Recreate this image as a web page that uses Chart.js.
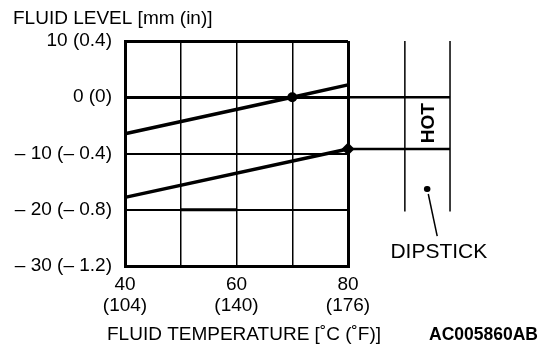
<!DOCTYPE html>
<html>
<head>
<meta charset="utf-8">
<script src="https://cdn.jsdelivr.net/npm/chart.js@4.4.1/dist/chart.umd.min.js"></script>
<style>
  html, body { margin: 0; padding: 0; background: #fff; }
</style>
</head>
<body>
<canvas id="chart" width="560" height="364"></canvas>
<script>
const FONT = '"Liberation Sans", Arial, Helvetica, sans-serif';

// x axis: fluid temperature (labelled ticks only)
const tempTicks = [40, 60, 80];
const tempTicksF = ['(104)', '(140)', '(176)'];

// y axis: fluid level
const levelTicks = [10, 0, -10, -20, -30];
const levelTickLabels = ['10 (0.4)', '0 (0)', '– 10 (– 0.4)', '– 20 (– 0.8)', '– 30 (– 1.2)'];

// upper line, dot at 70 °C
const upperTemps = [40, 70, 80];
const upperLevels = [-6.5, 0, 2.2];

// lower line, diamond at 80 °C
const lowerTemps = [40, 80];
const lowerLevels = [-17.8, -9.2];

// short heavy stroke on the -20 gridline
const stubTemps = [50, 60];
const stubLevels = [-20, -20];

// dipstick sketch to the right of the plot, on the same scales
const dipstickEdges = [90.2, 98.3];
const dipstickSpan = [10, -20.3];
const hotBand = [0, -9.2];
const dipstickDotTemps = [94.15, 94.25];
const dipstickDotLevels = [-16.3, -16.3];
const leaderTemps = [94.4, 96];
const leaderLevels = [-17.2, -24.7];
const dipstickLabelAt = [96.3, -27.5];

const pts = (xs, ys) => xs.map((x, i) => ({ x, y: ys[i] }));

const datasets = [
  { data: pts(upperTemps, upperLevels), borderWidth: 3.5, pointRadius: [0, 5, 0], pointStyle: 'circle' },
  { data: pts(lowerTemps, lowerLevels), borderWidth: 3.5, pointRadius: [0, 6.5], pointStyle: 'rectRot' },
  { data: pts(stubTemps, stubLevels), borderWidth: 3, pointRadius: 0 },
  ...dipstickEdges.map(t => ({ data: pts([t, t], dipstickSpan), borderWidth: 1.5, pointRadius: 0 })),
  ...hotBand.map(l => ({ data: pts([tempTicks[2], dipstickEdges[1]], [l, l]), borderWidth: 2.5, pointRadius: 0 })),
  { data: pts(leaderTemps, leaderLevels), borderWidth: 1.5, pointRadius: 0 },
  // dot outside the chart area: a tiny round-capped stroke, points there get culled
  { data: pts(dipstickDotTemps, dipstickDotLevels), borderWidth: 6, borderCapStyle: 'round', pointRadius: 0 },
].map(ds => ({
  borderColor: '#000',
  backgroundColor: '#000',
  pointBorderWidth: 0,
  showLine: true,
  tension: 0,
  clip: false,
  ...ds,
}));

// texts that sit outside the axes
const annotations = {
  id: 'annotations',
  afterDraw(chart) {
    const { ctx, scales: { x, y } } = chart;
    ctx.save();
    ctx.fillStyle = '#000';
    ctx.textBaseline = 'middle';

    ctx.font = `19px ${FONT}`;
    ctx.textAlign = 'left';
    ctx.fillText('FLUID LEVEL [mm (in)]', 13, 19);
    ctx.fillText('FLUID TEMPERATURE [˚C (˚F)]', 107, 335);

    ctx.font = `bold 17.5px ${FONT}`;
    ctx.textAlign = 'right';
    ctx.fillText('AC005860AB', 538, 335);

    // HOT, rotated inside the band
    ctx.save();
    ctx.translate(
      x.getPixelForValue((dipstickEdges[0] + dipstickEdges[1]) / 2),
      y.getPixelForValue((hotBand[0] + hotBand[1]) / 2)
    );
    ctx.rotate(-Math.PI / 2);
    ctx.textAlign = 'center';
    ctx.font = `bold 19px ${FONT}`;
    ctx.fillText('HOT', 0, 1);
    ctx.restore();

    ctx.font = `21px ${FONT}`;
    ctx.textAlign = 'center';
    ctx.fillText('DIPSTICK', x.getPixelForValue(dipstickLabelAt[0]), y.getPixelForValue(dipstickLabelAt[1]));
    ctx.restore();
  },
};

new Chart(document.getElementById('chart'), {
  type: 'scatter',
  data: { datasets },
  options: {
    responsive: false,
    animation: false,
    events: [],
    layout: { padding: { top: 41, right: 212, bottom: 44, left: 0 } },
    plugins: {
      legend: { display: false },
      tooltip: { enabled: false },
    },
    scales: {
      x: {
        type: 'linear',
        min: 40,
        max: 80,
        afterFit: (s) => { s.height = 54; },
        border: { display: true, width: 3, color: '#000' },
        grid: {
          color: '#000',
          drawTicks: false,
          lineWidth: (c) => (c.tick && (c.tick.value === 40 || c.tick.value === 80) ? 3 : 1.5),
        },
        ticks: {
          stepSize: 10,
          autoSkip: false,
          maxRotation: 0,
          padding: 8,
          color: '#000',
          font: { family: FONT, size: 19, lineHeight: 1.1 },
          callback: (v) => {
            const i = tempTicks.indexOf(v);
            return i < 0 ? '' : [String(v), tempTicksF[i]];
          },
        },
      },
      y: {
        type: 'linear',
        min: -30,
        max: 10,
        afterFit: (s) => { s.width = 125; },
        border: { display: true, width: 3, color: '#000' },
        grid: {
          color: '#000',
          drawTicks: false,
          lineWidth: (c) => (c.tick && [10, 0, -30].includes(c.tick.value) ? 3 : 2),
        },
        ticks: {
          stepSize: 10,
          padding: 13,
          color: '#000',
          font: { family: FONT, size: 19 },
          callback: (v) => {
            const i = levelTicks.indexOf(v);
            return i < 0 ? '' : levelTickLabels[i];
          },
        },
      },
    },
  },
  plugins: [annotations],
});
</script>
</body>
</html>
